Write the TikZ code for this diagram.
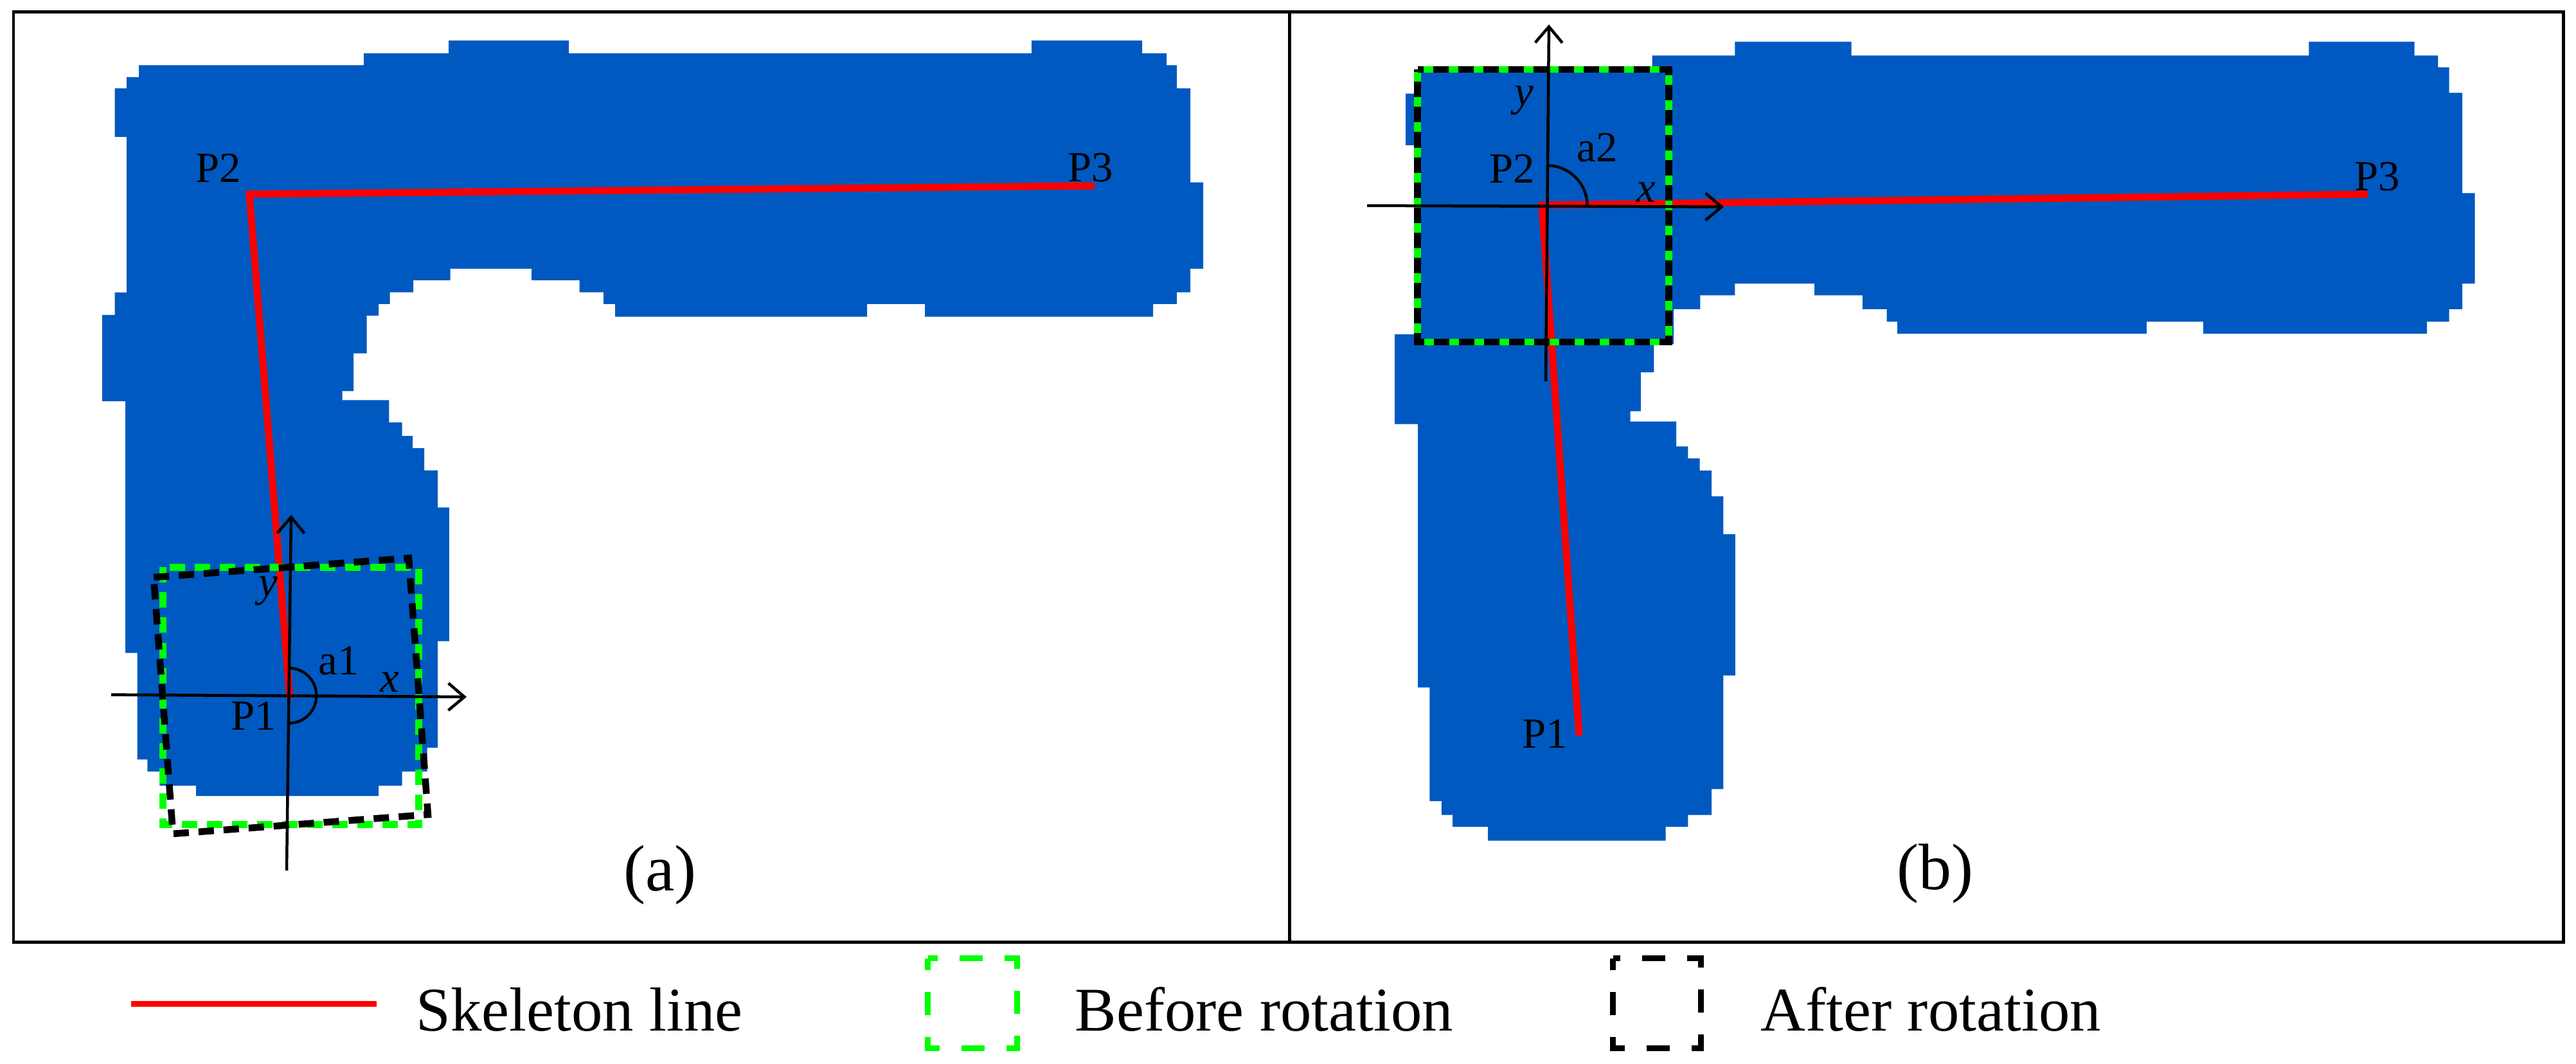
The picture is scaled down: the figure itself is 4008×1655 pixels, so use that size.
\documentclass[tikz,border=0pt]{standalone}
\usepackage{fontspec}
\setmainfont{Liberation Serif}
\usetikzlibrary{arrows.meta}
\definecolor{shapeblue}{RGB}{0,89,192}
\definecolor{skelred}{RGB}{255,0,0}
\definecolor{boxgreen}{RGB}{0,255,0}
\begin{document}
\begin{tikzpicture}[x=0.01cm,y=-0.01cm,
  blob/.style={fill=shapeblue,draw=none},
  skel/.style={draw=skelred,line width=3.13pt,line join=miter},
  panelframe/.style={draw=black,line width=1.42pt},
  axisline/.style={draw=black,line width=1.28pt,-{Straight Barb[length=7.1pt,width=12pt]}},
  anglearc/.style={draw=black,line width=1.2pt},
  greenbox/.style={draw=boxgreen,line width=3pt,dash pattern=on 6.83pt off 4.27pt},
  blackbox/.style={draw=black,line width=3pt,dash pattern=on 6.83pt off 4.27pt},
  lbl/.style={inner sep=0pt,font=\fontsize{19}{22}\selectfont},
  ilbl/.style={inner sep=0pt,font=\fontsize{19}{22}\selectfont\itshape},
  captext/.style={inner sep=0pt,anchor=base,font=\fontsize{29}{34}\selectfont},
  legtext/.style={inner sep=0pt,anchor=base west,font=\fontsize{27.5}{33}\selectfont},
  leggreen/.style={draw=boxgreen,line width=2.56pt,dash pattern=on 10.24pt off 9.67pt,dash phase=5.12pt},
  legblack/.style={draw=black,line width=2.56pt,dash pattern=on 10.24pt off 9.67pt,dash phase=5.12pt},
]
\useasboundingbox (0,0) rectangle (4008,1655);
\fill[white] (0,0) rectangle (4008,1655);

% ---------- panel (a) shape ----------
\fill[blob] (216,101.4) -- (566,101.4) -- (566,83) -- (698,83) -- (698,63.2) -- (885,63.2) -- (885,83) -- (1605,83) -- (1605,63.2) -- (1777,63.2) -- (1777,83) -- (1815,83) -- (1815,101.4) -- (1831,101.4) -- (1831,137.5) -- (1852,137.5) -- (1852,283.7) -- (1872,283.7) -- (1872,418) -- (1852,418) -- (1852,454.6) -- (1831,454.6) -- (1831,472.8) -- (1794,472.8) -- (1794,492.7) -- (1439,492.7) -- (1439,472.8) -- (1349,472.8) -- (1349,492.7) -- (957,492.7) -- (957,472.8) -- (939,472.8) -- (939,454.6) -- (901.5,454.6) -- (901.5,436) -- (827,436) -- (827,418) -- (700.5,418) -- (700.5,436) -- (643,436) -- (643,454.6) -- (606.5,454.6) -- (606.5,472.8) -- (589,472.8) -- (589,491) -- (570.5,491) -- (570.5,549.6) -- (550,549.6) -- (550,608.3) -- (532.7,608.3) -- (532.7,622.3) -- (605.3,622.3) -- (605.3,657) -- (625.7,657) -- (625.7,678) -- (642,678) -- (642,697) -- (660,697) -- (660,731.7) -- (681,731.7) -- (681,789.4) -- (698.8,789.4) -- (698.8,997.3) -- (681,997.3) -- (681,1163) -- (664.5,1163) -- (664.5,1200) -- (625.7,1200) -- (625.7,1222) -- (589,1222) -- (589,1238) -- (305,1238) -- (305,1222) -- (248.3,1222) -- (248.3,1200) -- (229.4,1200) -- (229.4,1181.3) -- (213.5,1181.3) -- (213.5,1015.7) -- (195.2,1015.7) -- (195.2,624.2) -- (158.8,624.2) -- (158.8,490) -- (178.5,490) -- (178.5,455) -- (197,455) -- (197,213) -- (178.5,213) -- (178.5,137.5) -- (197,137.5) -- (197,120) -- (216,120) -- cycle;

% ---------- panel (b) shape ----------
\fill[blob] (2204,108) -- (2570.7,108) -- (2570.7,86.4) -- (2699.3,86.4) -- (2699.3,64.9) -- (2880.6,64.9) -- (2880.6,86.4) -- (3592.4,86.4) -- (3592.4,64.9) -- (3756.6,64.9) -- (3756.6,86.4) -- (3793.3,86.4) -- (3793.3,104.7) -- (3810.5,104.7) -- (3810.5,144.5) -- (3831.2,144.5) -- (3831.2,300.3) -- (3850.7,300.3) -- (3850.7,441.2) -- (3831.2,441.2) -- (3831.2,481) -- (3810.5,481) -- (3810.5,500.3) -- (3776,500.3) -- (3776,519.2) -- (3428.2,519.2) -- (3428.2,500.3) -- (3339.8,500.3) -- (3339.8,519.2) -- (2951.8,519.2) -- (2951.8,500.3) -- (2935.7,500.3) -- (2935.7,481) -- (2897.9,481) -- (2897.9,459.5) -- (2823.2,459.5) -- (2823.2,441.2) -- (2699.3,441.2) -- (2699.3,459.5) -- (2645.3,459.5) -- (2645.3,481) -- (2604,481) -- (2604,535) -- (2573.3,535) -- (2573.3,579.1) -- (2552.9,579.1) -- (2552.9,639.6) -- (2536.6,639.6) -- (2536.6,655.7) -- (2608,655.7) -- (2608,694.3) -- (2626.3,694.3) -- (2626.3,713) -- (2644.7,713) -- (2644.7,731.8) -- (2663,731.8) -- (2663,772) -- (2681.4,772) -- (2681.4,830.9) -- (2699.8,830.9) -- (2699.8,1050.5) -- (2681.4,1050.5) -- (2681.4,1227.3) -- (2663,1227.3) -- (2663,1267.5) -- (2626.3,1267.5) -- (2626.3,1286.2) -- (2591.6,1286.2) -- (2591.6,1307.7) -- (2315,1307.7) -- (2315,1286.2) -- (2260,1286.2) -- (2260,1267.5) -- (2242.8,1267.5) -- (2242.8,1246) -- (2224.4,1246) -- (2224.4,1069.3) -- (2206,1069.3) -- (2206,659.5) -- (2170.2,659.5) -- (2170.2,520.2) -- (2204,520.2) -- (2204,226) -- (2187,226) -- (2187,145.7) -- (2204,145.7) -- cycle;

% ---------- coordinates ----------
\coordinate (aP1) at (451,1087);
\coordinate (aP2) at (388,302);
\coordinate (aP3) at (1703,289);
\coordinate (bP1) at (2457,1144);
\coordinate (bP2) at (2399,319);
\coordinate (bP3) at (3684,302);
\coordinate (aO) at (449.5,1082);
\coordinate (bO) at (2407,320);
\coordinate (axl) at (173,1080.6);
\coordinate (axr) at (726,1084);
\coordinate (ayb) at (446,1354);
\coordinate (ayt) at (453,801);
\coordinate (bxl) at (2127,319.8);
\coordinate (bxr) at (2682,321.7);
\coordinate (byb) at (2405,593);
\coordinate (byt) at (2410,38);

% ---------- skeleton lines ----------
\draw[skel] (aP1) -- (aP2) -- (aP3);
\draw[skel] (bP1) -- (bP2) -- (bP3);

% ---------- boxes ----------
\draw[greenbox] (253.6,882.4) rectangle (651.6,1282.3);
\draw[blackbox] (239.1,898) -- (635.9,868.1) -- (665.9,1267) -- (269.1,1296.9) -- cycle;
\draw[greenbox] (2205.7,107.9) rectangle (2596.5,531.8);
\draw[blackbox,dash phase=5.55pt] (2205.7,107.9) rectangle (2596.5,531.8);

% ---------- axes ----------
\draw[axisline] (axl) -- (axr);
\draw[axisline] (ayb) -- (ayt);
\draw[axisline] (bxl) -- (bxr);
\draw[axisline] (byb) -- (byt);
\draw[anglearc] (aO) ++(0pt,12.2pt) arc[start angle=90,end angle=-90,radius=12.2pt];
\draw[anglearc] (bO) ++(0pt,17.8pt) arc[start angle=90,end angle=0,radius=17.8pt];

% ---------- labels ----------
\node[lbl] (laP1) at (395,1113.5) {P1};
\node[lbl] (laP2) at (339.5,261) {P2};
\node[lbl] (laP3) at (1697,261) {P3};
\node[lbl] (laA) at (527,1027.5) {a1};
\node[ilbl] (lax) at (606,1061) {x};
\node[ilbl] (lay) at (417,919) {y};
\node[lbl] (lbP1) at (2404,1141.6) {P1};
\node[lbl] (lbP2) at (2353,262.4) {P2};
\node[lbl] (lbP3) at (3699,274.6) {P3};
\node[lbl] (lbA) at (2485.5,229.9) {a2};
\node[ilbl] (lbx) at (2561,298.8) {x};
\node[ilbl] (lby) at (2371.5,156.4) {y};
\node[captext] (capa) at (1027,1385) {(a)};
\node[captext] (capb) at (3011,1383) {(b)};

% ---------- frame ----------
\coordinate (fTL) at (21,19);
\coordinate (fBR) at (3988,1465);
\coordinate (dT) at (2006,19);
\coordinate (dB) at (2006,1465);
\draw[panelframe] (fTL) rectangle (fBR);
\draw[panelframe] (dT) -- (dB);

% ---------- legend ----------
\coordinate (lr1) at (204,1561.5);
\coordinate (lr2) at (586,1561.5);
\draw[skel,line width=2.56pt] (lr1) -- (lr2);
\node[legtext] (t1) at (647,1603) {Skeleton line};
\draw[leggreen] (1443.5,1490.5) rectangle (1582.5,1630.5);
\node[legtext] (t2) at (1672,1603) {Before rotation};
\draw[legblack] (2509.5,1490.5) rectangle (2646.5,1630.5);
\node[legtext] (t3) at (2739,1603) {After rotation};
\end{tikzpicture}
\end{document}
